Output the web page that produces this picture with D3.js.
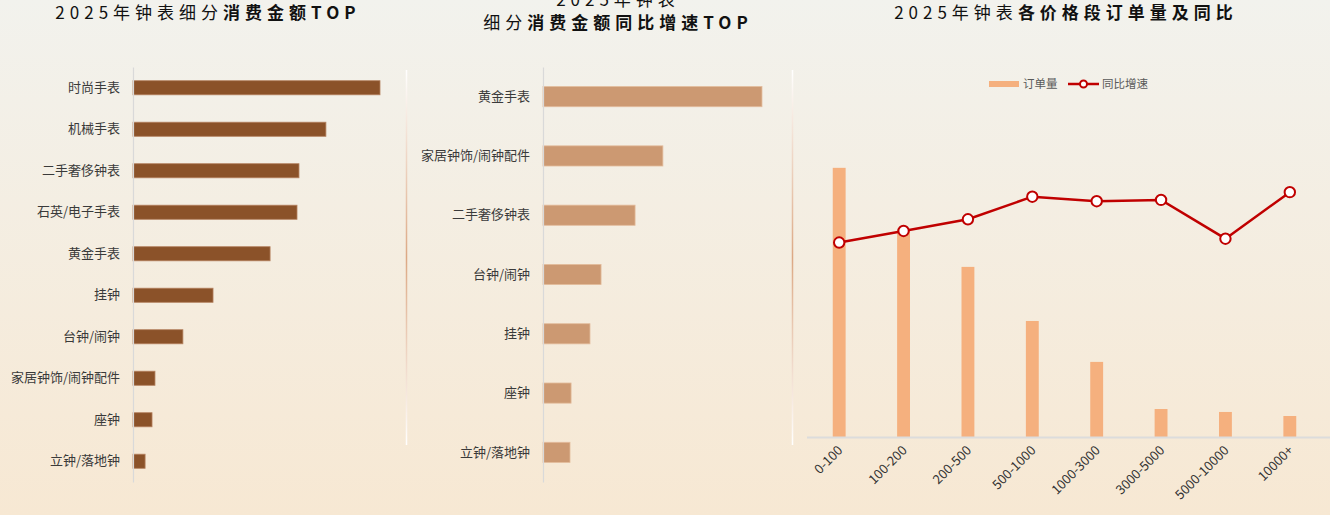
<!DOCTYPE html>
<html><head><meta charset="utf-8">
<script src="https://cdn.jsdelivr.net/npm/d3@7"></script>
<style>
html,body{margin:0;padding:0;}
body{width:1330px;height:515px;overflow:hidden;}
svg{display:block;font-family:"Noto Sans CJK SC","Noto Sans",sans-serif;}
</style></head>
<body>
<svg id="c" width="1330" height="515"></svg>
<script>
// ---- data ----
const amountCats = ['时尚手表','机械手表','二手奢侈钟表','石英/电子手表','黄金手表','挂钟','台钟/闹钟','家居钟饰/闹钟配件','座钟','立钟/落地钟'];
const amountVals = [100, 78.1, 67.2, 66.4, 55.5, 32.4, 20.2, 8.9, 7.7, 4.9];

const growthCats = ['黄金手表','家居钟饰/闹钟配件','二手奢侈钟表','台钟/闹钟','挂钟','座钟','立钟/落地钟'];
const growthVals = [81.1, 44.4, 34.1, 21.5, 17.4, 10.4, 10.0];

const priceCats = ['0-100','100-200','200-500','500-1000','1000-3000','3000-5000','5000-10000','10000+'];
const orderVals = [100, 77, 63.2, 43.1, 27.9, 10.4, 9.3, 7.8];
const yoyVals = [30.1, 31.9, 33.7, 37.2, 36.5, 36.7, 30.7, 37.9];

const legendLabels = ['订单量','同比增速'];

const svg = d3.select('#c');
const defs = svg.append('defs');
const bg = defs.append('linearGradient').attr('id','bg').attr('x1',0).attr('y1',0).attr('x2',0).attr('y2',1);
bg.append('stop').attr('offset','0%').attr('stop-color','#f2f2ed');
bg.append('stop').attr('offset','100%').attr('stop-color','#f7e8d3');
svg.append('rect').attr('width',1330).attr('height',515).attr('fill','url(#bg)');

const sep = defs.append('linearGradient').attr('id','sep').attr('x1',0).attr('y1',0).attr('x2',0).attr('y2',1);
sep.append('stop').attr('offset','0%').attr('stop-color','#ffffff');
sep.append('stop').attr('offset','50%').attr('stop-color','#dca884');
sep.append('stop').attr('offset','100%').attr('stop-color','#ffffff');
[406.5, 792.5].forEach(x=>{
  svg.append('rect').attr('x',x-0.75).attr('y',70).attr('width',1.5).attr('height',375).attr('fill','url(#sep)');
});

function title(x, y, normal, bold){
  const t = svg.append('text').attr('x',x).attr('y',y).attr('text-anchor','middle')
    .attr('font-size',17).attr('letter-spacing','5px').attr('fill','#111');
  t.append('tspan').text(normal);
  if (bold) t.append('tspan').attr('font-weight','bold').text(bold);
}
title(208, 19, '2025年钟表细分', '消费金额TOP');
title(618, 6, '2025年钟表', '');
title(618, 29, '细分', '消费金额同比增速TOP');
title(1066, 19, '2025年钟表', '各价格段订单量及同比');

// ---- horizontal bar charts ----
function hbar(cats, vals, x0, xMax, xEnd, color, stroke){
  const y = d3.scaleBand().domain(cats).range([67,482]).paddingInner(0.66).paddingOuter(0.33);
  const x = d3.scaleLinear().domain([0,xMax]).range([x0,xEnd]);
  const g = svg.append('g');
  g.selectAll('rect').data(vals).join('rect')
    .attr('x',x(0)).attr('y',(d,i)=>y(cats[i]))
    .attr('width',d=>x(d)-x(0)).attr('height',y.bandwidth())
    .attr('fill',color).attr('stroke',stroke).attr('stroke-width',0.8);
  const ax = g.append('g').attr('transform',`translate(${x0},0)`).call(d3.axisLeft(y).tickSize(0).tickPadding(13));
  ax.select('.domain').attr('stroke','#d9d9d9').attr('stroke-width',1.2);
  ax.selectAll('text').attr('font-size',13).attr('fill','#3a3a3a').attr('font-family','"Noto Sans CJK SC",sans-serif');
}
hbar(amountCats, amountVals, 133, 100, 380, '#8b5229', '#b58260');
hbar(growthCats, growthVals, 543, 100, 813, '#cc9972', '#e3bc9c');

// ---- right chart ----
const xb = d3.scaleBand().domain(priceCats).range([807,1322]).paddingInner(0.8).paddingOuter(0.4);
const yL = d3.scaleLinear().domain([0,120]).range([437,114]);
const yR = d3.scaleLinear().domain([0,50]).range([437,114]);
const gR = svg.append('g');
gR.selectAll('rect.bar').data(orderVals).join('rect').attr('class','bar')
  .attr('x',(d,i)=>xb(priceCats[i])).attr('y',d=>yL(d))
  .attr('width',xb.bandwidth()).attr('height',d=>yL(0)-yL(d))
  .attr('fill','#f5b07e');
const xc = (i)=>xb(priceCats[i])+xb.bandwidth()/2;
gR.append('line').attr('x1',xb.range()[0]).attr('x2',1330).attr('y1',yL(0)+0.5).attr('y2',yL(0)+0.5)
  .attr('stroke','#dcdcdc').attr('stroke-width',2);
const xa = gR.append('g').attr('transform',`translate(0,${yL(0)})`).call(d3.axisBottom(xb).tickSize(0).tickPadding(0));
xa.select('.domain').remove();
xa.selectAll('text').attr('font-size',13).attr('fill','#333').attr('text-anchor','end')
  .attr('font-family','"Noto Sans CJK SC",sans-serif')
  .attr('transform','translate(1,11) rotate(-45)').attr('dy','0.35em');
gR.append('path').datum(yoyVals)
  .attr('d',d3.line().x((d,i)=>xc(i)).y(d=>yR(d)))
  .attr('fill','none').attr('stroke','#c00000').attr('stroke-width',2.5);
gR.selectAll('circle.pt').data(yoyVals).join('circle').attr('class','pt')
  .attr('cx',(d,i)=>xc(i)).attr('cy',d=>yR(d)).attr('r',5.2)
  .attr('fill','#fff').attr('stroke','#c00000').attr('stroke-width',2);

// legend
const lg = svg.append('g').attr('font-size',11.5).attr('fill','#595959');
lg.append('rect').attr('x',989).attr('y',81).attr('width',30).attr('height',6).attr('fill','#f5b07e');
lg.append('text').attr('x',1023).attr('y',88).text(legendLabels[0]);
lg.append('line').attr('x1',1068).attr('x2',1099).attr('y1',84).attr('y2',84).attr('stroke','#c00000').attr('stroke-width',2.5);
lg.append('circle').attr('cx',1083.5).attr('cy',84).attr('r',3.5).attr('fill','#fff').attr('stroke','#c00000').attr('stroke-width',2);
lg.append('text').attr('x',1102).attr('y',88).text(legendLabels[1]);
</script>
</body></html>
